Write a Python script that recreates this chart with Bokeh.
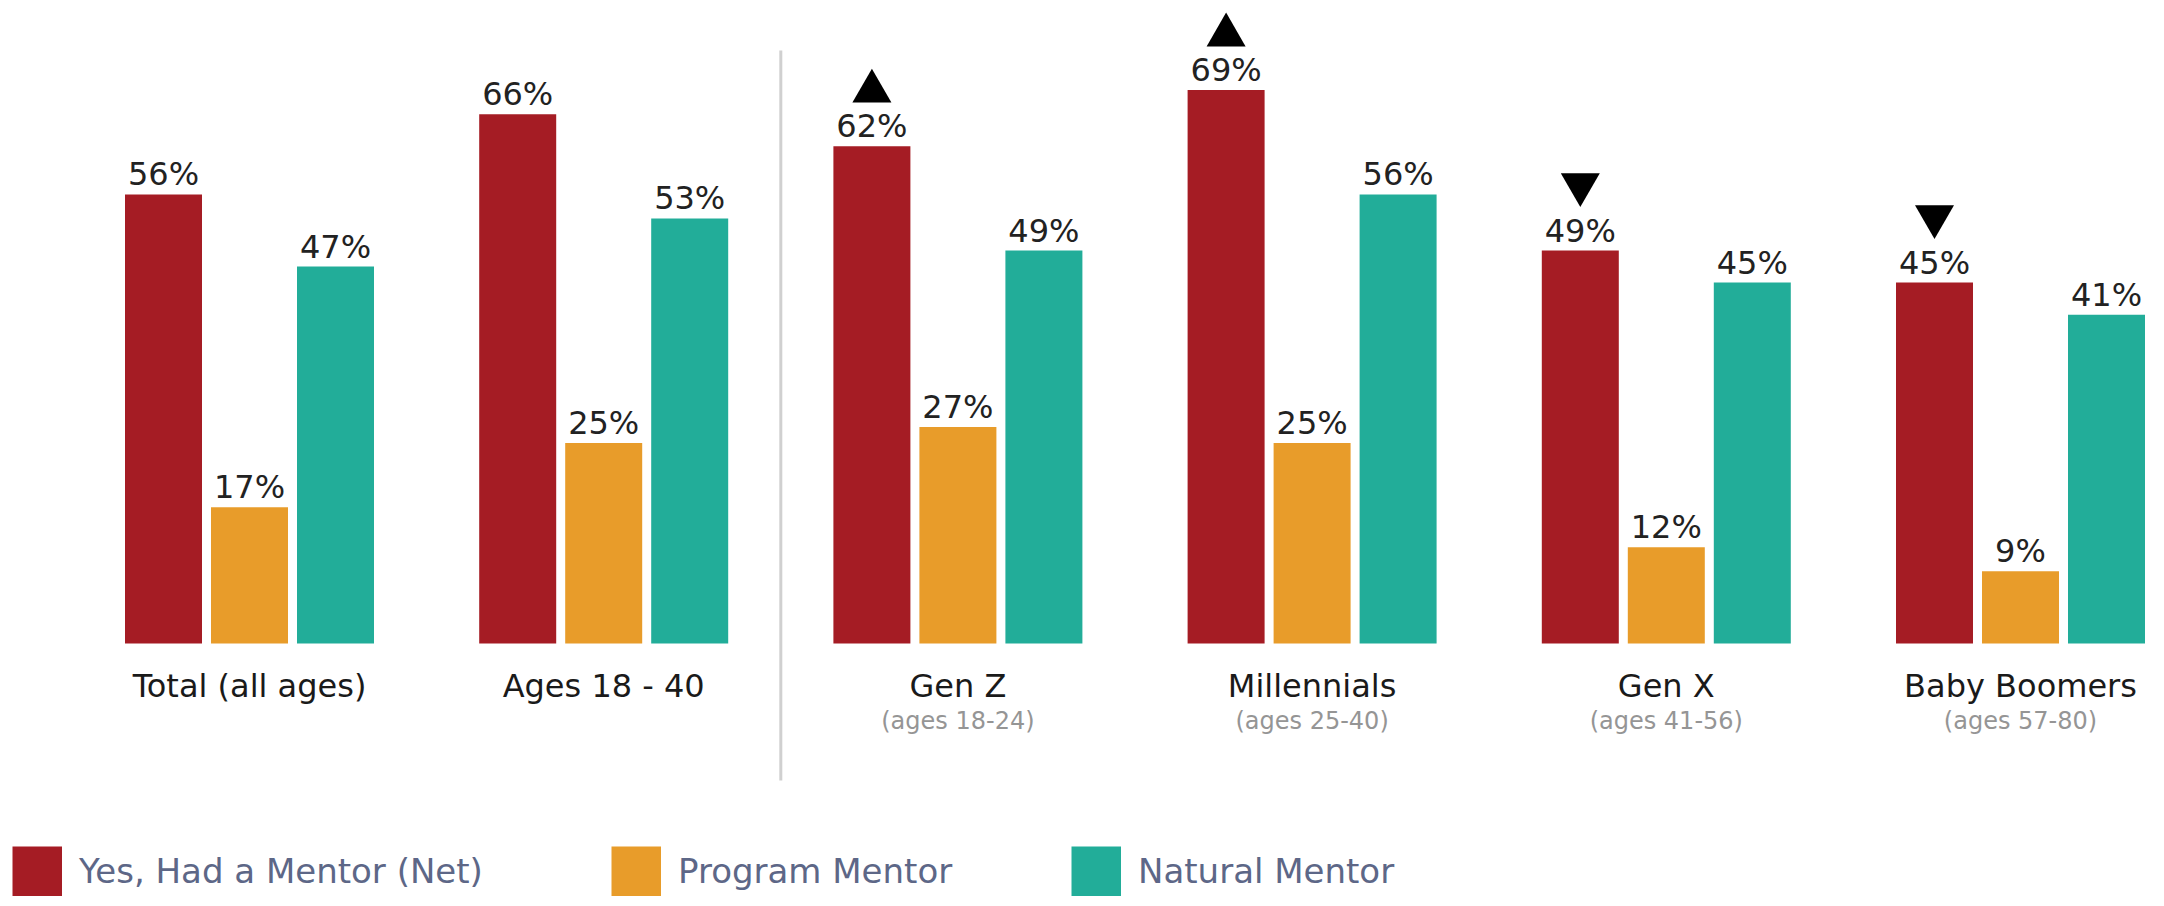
from bokeh.plotting import figure
from bokeh.models import Range1d, ColumnDataSource, Legend, LegendItem
from bokeh.embed import file_html
from bokeh.resources import INLINE
from bokeh.core.properties import value

# ---- data ----
groups = ["Total (all ages)", "Ages 18 - 40", "Gen Z", "Millennials", "Gen X", "Baby Boomers"]
subtitles = ["", "", "(ages 18-24)", "(ages 25-40)", "(ages 41-56)", "(ages 57-80)"]
series_names = ["Yes, Had a Mentor (Net)", "Program Mentor", "Natural Mentor"]
had_mentor = [56, 66, 62, 69, 49, 45]
program_mentor = [17, 25, 27, 25, 12, 9]
natural_mentor = [47, 53, 49, 56, 45, 41]
significance = ["", "", "up", "up", "down", "down"]
colors = ["#A51C24", "#E89C2A", "#22AD99"]

# ---- layout constants ----
W, H = 2156, 898
PX_PER_UNIT = 354.2
X0_PX = 249.0
PX_PER_PCT = 8.02
ZERO_PX = 643.0
pitch = 86.0 / PX_PER_UNIT
bar_w = 77.0 / PX_PER_UNIT
FONT = "DejaVu Sans"

x_start = -X0_PX / PX_PER_UNIT
x_end = x_start + W / PX_PER_UNIT
y_end = ZERO_PX / PX_PER_PCT
y_start = y_end - H / PX_PER_PCT

def px(n):
    return n / PX_PER_PCT

p = figure(width=W, height=H, output_backend="svg", toolbar_location=None,
           x_range=Range1d(x_start, x_end), y_range=Range1d(y_start, y_end),
           min_border=0, outline_line_color=None)
p.axis.visible = False
p.grid.visible = False
p.background_fill_color = "white"
p.border_fill_color = "white"

idx = list(range(len(groups)))
all_series = [had_mentor, program_mentor, natural_mentor]
for k, vals in enumerate(all_series):
    xs = [i + (k - 1) * pitch for i in idx]
    src = ColumnDataSource(dict(x=xs, top=vals, lab=[f"{v}%" for v in vals],
                                ly=[v + px(20) for v in vals]))
    p.vbar(x="x", top="top", bottom=0, width=bar_w, source=src,
           fill_color=colors[k], line_color=None)
    p.text(x="x", y="ly", text="lab", source=src, text_align="center",
           text_baseline="middle", text_font=value(FONT), text_font_size="32px",
           text_color="#222222")

# significance triangles above the net bars
up_x = [i - pitch for i in idx if significance[i] == "up"]
up_y = [had_mentor[i] + px(55) for i in idx if significance[i] == "up"]
dn_x = [i - pitch for i in idx if significance[i] == "down"]
dn_y = [had_mentor[i] + px(66) for i in idx if significance[i] == "down"]
p.scatter(up_x, up_y, marker="triangle", size=39, fill_color="black", line_color=None)
p.scatter(dn_x, dn_y, marker="inverted_triangle", size=39, fill_color="black", line_color=None)

# category labels
p.text(x=idx, y=[-px(42)] * len(idx), text=groups, text_align="center",
       text_baseline="middle", text_font=value(FONT), text_font_size="32px",
       text_color="#1a1a1a")
p.text(x=idx, y=[-px(77)] * len(idx), text=subtitles, text_align="center",
       text_baseline="middle", text_font=value(FONT), text_font_size="24px",
       text_color="#959595")

# divider between overall groups and generations
div_x = (groups.index("Ages 18 - 40") + groups.index("Gen Z")) / 2
p.segment(x0=[div_x], y0=[-px(137)], x1=[div_x], y1=[px(593)], line_color="#d0d0d0", line_width=3)

# legend: one swatch per series (thick line gives a full-size square swatch)
nan = float("nan")
legend_x = [12, 611, 1071]
for k in range(3):
    sw = p.line(x=[nan, nan], y=[nan, nan], line_color=colors[k], line_width=50, line_cap="butt")
    lg = Legend(items=[LegendItem(label=series_names[k], renderers=[sw])],
                location=(legend_x[k], 2), glyph_width=50, glyph_height=50,
                label_standoff=17, padding=0, margin=0, label_height=50,
                label_text_font=FONT, label_text_font_size="34px", label_text_color="#5d6787",
                border_line_alpha=0, background_fill_alpha=0)
    p.add_layout(lg, "center")

open("out.html", "w").write(file_html(p, INLINE))
